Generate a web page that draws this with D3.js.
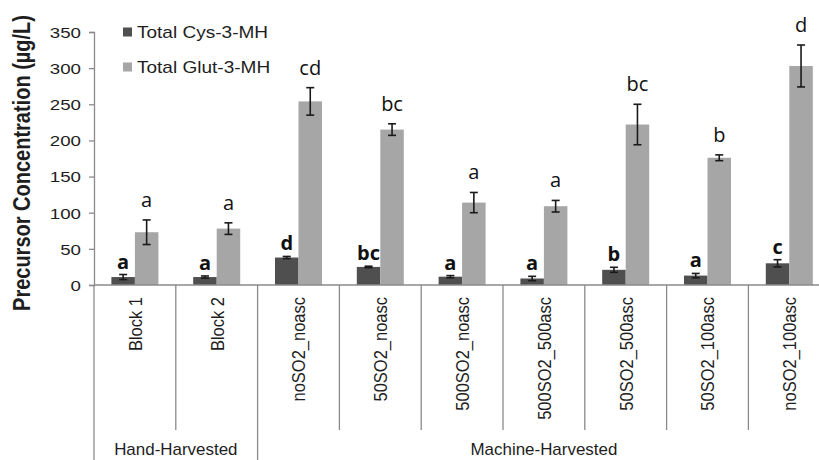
<!DOCTYPE html>
<html>
<head>
<meta charset="utf-8">
<script src="https://cdn.jsdelivr.net/npm/d3@7/dist/d3.min.js"></script>
<style>
  html, body { margin: 0; padding: 0; background: #fff; }
  svg { display: block; }
</style>
</head>
<body>
<svg id="chart" width="819" height="460"></svg>
<script>
// Treatments along the x axis
const categories = ["Block 1", "Block 2", "noSO2_noasc", "50SO2_noasc", "500SO2_noasc",
                    "500SO2_500asc", "50SO2_500asc", "50SO2_100asc", "noSO2_100asc"];
// Harvest groups: name and number of treatments in each
const groupNames = ["Hand-Harvested", "Machine-Harvested"];
const groupSizes = [2, 7];

// Total Cys-3-MH (µg/L), mean and error
const cysValues = [11, 11, 38, 25, 11.5, 9, 21, 13, 30];
const cysErrors = [3.5, 1.5, 1.5, 1, 1.5, 3, 3.5, 3, 5];
const cysLetters = ["a", "a", "d", "bc", "a", "a", "b", "a", "c"];

// Total Glut-3-MH (µg/L), mean and error
const glutValues = [73, 78, 254, 215, 114, 109, 222, 176, 303];
const glutErrors = [17, 8, 19, 8, 14, 8, 28, 4, 29];
const glutLetters = ["a", "a", "cd", "bc", "a", "a", "bc", "b", "d"];

const seriesNames = ["Total Cys-3-MH", "Total Glut-3-MH"];
const yTicks = [0, 50, 100, 150, 200, 250, 300, 350];

const colors = { cys: "#4f4f4f", glut: "#a6a6a6", axis: "#8a8a8a", text: "#1e1e1e" };
const FONT = "'Liberation Sans', Arial, sans-serif";
const LETTER_FONT = "'Open Sans', 'Liberation Sans', sans-serif";
// glyphs are drawn slightly wide
const SX = 1.15;

const svg = d3.select("#chart");

const x0 = 94, x1 = 94 + 9 * 81.8;
const yTop = 32, yBase = 285;

const x = d3.scaleBand().domain(categories).range([x0, x1]).paddingInner(0).paddingOuter(0);
const bw = 23.5;
const y = d3.scaleLinear().domain([0, 350]).range([yBase, yTop]);

// Y axis
const yAxis = svg.append("g")
  .attr("transform", `translate(${x0},0)`)
  .call(d3.axisLeft(y).tickValues(yTicks).tickSize(5).tickPadding(8).tickFormat(d3.format("d")));
yAxis.select(".domain").attr("stroke", colors.axis).attr("stroke-width", 1.3);
yAxis.selectAll(".tick line").attr("stroke", colors.axis).attr("stroke-width", 1.3);
yAxis.selectAll(".tick text").remove();
yAxis.selectAll(".tick").append("text")
  .attr("transform", `translate(-13,0) scale(${SX * 1.05},1)`)
  .attr("text-anchor", "end").attr("dy", "0.35em")
  .attr("font-family", FONT).attr("font-size", 15.5).attr("fill", colors.text)
  .text(d => d);

// Y axis title
svg.append("text")
  .attr("transform", `translate(30,163) scale(${SX},1) rotate(-90)`)
  .attr("text-anchor", "middle")
  .attr("font-family", FONT).attr("font-weight", "bold").attr("font-size", 20)
  .attr("fill", colors.text)
  .text("Precursor Concentration (µg/L)");

// Bars
const data = categories.map((c, i) => ({
  cat: c,
  cys: cysValues[i], cysErr: cysErrors[i], cysLetter: cysLetters[i],
  glut: glutValues[i], glutErr: glutErrors[i], glutLetter: glutLetters[i]
}));

const center = c => x(c) + x.bandwidth() / 2;

const g = svg.append("g");
g.selectAll("rect.cys").data(data).join("rect")
  .attr("class", "cys")
  .attr("x", d => center(d.cat) - bw)
  .attr("width", bw)
  .attr("y", d => y(d.cys))
  .attr("height", d => yBase - y(d.cys))
  .attr("fill", colors.cys);
g.selectAll("rect.glut").data(data).join("rect")
  .attr("class", "glut")
  .attr("x", d => center(d.cat))
  .attr("width", bw)
  .attr("y", d => y(d.glut))
  .attr("height", d => yBase - y(d.glut))
  .attr("fill", colors.glut);

// Error bars
function errorBars(key, errKey, offset) {
  const eg = g.append("g").attr("stroke", "#1a1a1a").attr("stroke-width", 1.6);
  data.forEach(d => {
    const cx = center(d.cat) + offset;
    const hi = y(d[key] + d[errKey]), lo = y(d[key] - d[errKey]);
    eg.append("line").attr("x1", cx).attr("x2", cx).attr("y1", hi).attr("y2", lo);
    eg.append("line").attr("x1", cx - 4).attr("x2", cx + 4).attr("y1", hi).attr("y2", hi);
    eg.append("line").attr("x1", cx - 4).attr("x2", cx + 4).attr("y1", lo).attr("y2", lo);
  });
}
errorBars("cys", "cysErr", -bw / 2);
errorBars("glut", "glutErr", bw / 2);

// Significance letters
g.selectAll("text.cysL").data(data).join("text")
  .attr("class", "cysL")
  .attr("x", d => center(d.cat) - bw / 2)
  .attr("y", d => y(d.cys + d.cysErr) - 6)
  .attr("text-anchor", "middle")
  .attr("font-family", LETTER_FONT).attr("font-weight", "bold").attr("font-size", 20)
  .attr("fill", "#111")
  .text(d => d.cysLetter);
g.selectAll("text.glutL").data(data).join("text")
  .attr("class", "glutL")
  .attr("x", d => center(d.cat) + bw / 2)
  .attr("y", d => y(d.glut + d.glutErr) - 13)
  .attr("text-anchor", "middle")
  .attr("font-family", LETTER_FONT).attr("font-size", 20)
  .attr("fill", "#111")
  .text(d => d.glutLetter);

// X axis baseline
svg.append("line")
  .attr("x1", x0).attr("x2", x1).attr("y1", yBase).attr("y2", yBase)
  .attr("stroke", colors.axis).attr("stroke-width", 1.3);

// Boundaries: group edges run to the bottom, inner ones stop above group labels
const groupEdges = [0];
groupSizes.reduce((acc, n) => { acc += n; groupEdges.push(acc); return acc; }, 0);
d3.range(categories.length + 1).forEach(i => {
  const xx = i < categories.length ? x(categories[i]) : x1;
  const isGroupEdge = groupEdges.includes(i);
  svg.append("line")
    .attr("x1", xx).attr("x2", xx)
    .attr("y1", yBase).attr("y2", isGroupEdge ? 460 : 430)
    .attr("stroke", colors.axis).attr("stroke-width", 1.3);
});

// Category labels (rotated)
svg.selectAll("text.cat").data(categories).join("text")
  .attr("class", "cat")
  .attr("transform", d => `translate(${center(d)},297) scale(${SX},1) rotate(-90)`)
  .attr("text-anchor", "end")
  .attr("dy", "0.36em")
  .attr("font-family", FONT).attr("font-size", 16.5)
  .attr("fill", colors.text)
  .text(d => d);

// Group labels
groupNames.forEach((name, i) => {
  const a = x(categories[groupEdges[i]]);
  const b = groupEdges[i + 1] < categories.length ? x(categories[groupEdges[i + 1]]) : x1;
  svg.append("text")
    .attr("transform", `translate(${(a + b) / 2},455) scale(1.06,1)`)
    .attr("text-anchor", "middle")
    .attr("font-family", FONT).attr("font-size", 16)
    .attr("fill", colors.text)
    .text(name);
});

// Legend
const legend = svg.append("g");
[colors.cys, colors.glut].forEach((c, i) => {
  const ly = 32 + i * 35;
  legend.append("rect").attr("x", 123).attr("y", ly - 4.5).attr("width", 9).attr("height", 9).attr("fill", c);
  legend.append("text")
    .attr("transform", `translate(137,${ly}) scale(1.12,1)`)
    .attr("dy", "0.36em")
    .attr("font-family", FONT).attr("font-size", 17).attr("fill", colors.text)
    .text(seriesNames[i]);
});
</script>
</body>
</html>
